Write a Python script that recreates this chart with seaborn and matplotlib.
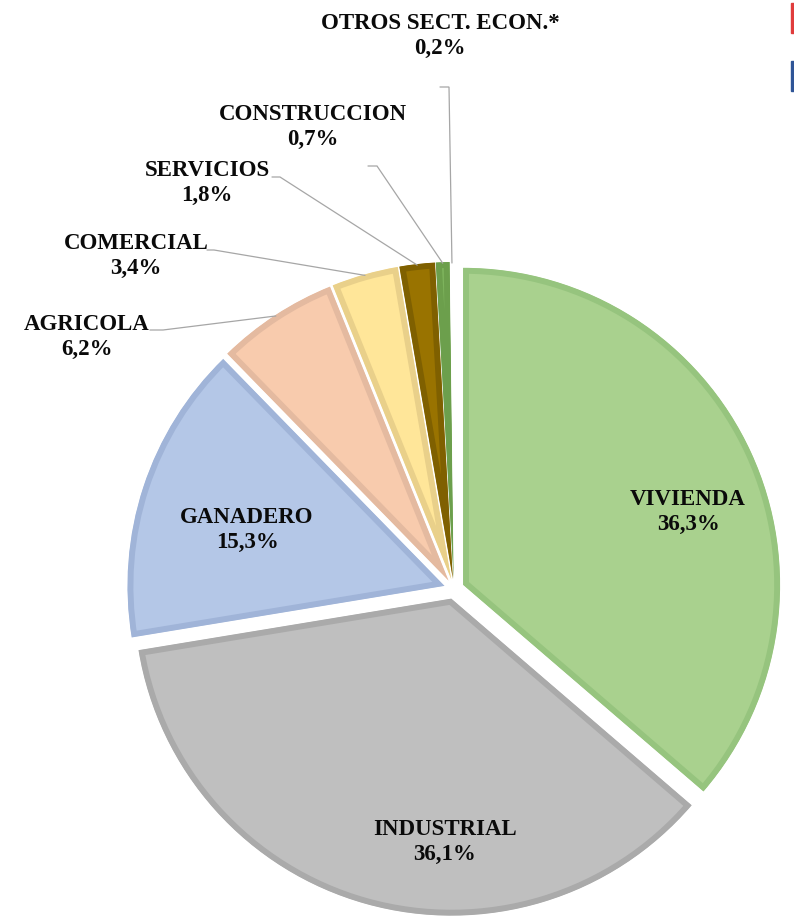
import numpy as np

import matplotlib

matplotlib.use("Agg")

import matplotlib.pyplot as plt

import seaborn as sns

from matplotlib.patches import Rectangle


# ==========================================
# DATA
# ==========================================

sectores = [
    "VIVIENDA",
    "INDUSTRIAL",
    "GANADERO",
    "AGRICOLA",
    "COMERCIAL",
    "SERVICIOS",
    "CONSTRUCCION",
    "OTROS SECT. ECON.*"
]

porcentajes = [36.3, 36.1, 15.3, 6.2, 3.4, 1.8, 0.7, 0.2]

colores_relleno = [
    "#A9D18E", "#BFBFBF", "#B4C7E7", "#F8CBAD",
    "#FFE699", "#997300", "#7DB35C", "#FFFFFF"
]

colores_borde = [
    "#96C47E", "#AAAAAA", "#A0B4D8", "#E4BAA0",
    "#E9D08A", "#7F6000", "#6C9F4C", "#FFFFFF"
]

# label block centres, pixels from top-left
posiciones_etiquetas = [
    (688, 512), (445, 842), (247, 530), (87, 337),
    (136, 256), (207, 183), (313, 127), (440, 36)
]

# leader lines (start, elbow) for the small slices, pixels
lineas_guia = {
    "AGRICOLA": [(150, 330), (163, 330)],
    "COMERCIAL": [(207, 250), (214, 250)],
    "SERVICIOS": [(272, 177), (280, 177)],
    "CONSTRUCCION": [(368, 166), (377, 166)],
    "OTROS SECT. ECON.*": [(440, 87), (449, 87)],
}


# ==========================================
# FIGURE SETUP
# ==========================================

sns.set_theme(style="white")

plt.rcParams["font.family"] = ["Liberation Serif", "DejaVu Serif"]

ANCHO, ALTO = 794, 923

fig = plt.figure(figsize=(ANCHO / 100, ALTO / 100), dpi=100)

ax = fig.add_axes([0, 0, 1, 1])


def px(x, y):
    # pixel (top-left origin) -> data coords
    return x, ALTO - y


centro = px(454, 589)

radio = 317


# ==========================================
# PIE
# ==========================================

# explode is in data units here (= pixels)
wedges, _ = ax.pie(
    porcentajes,
    colors=colores_relleno,
    explode=[10] * len(porcentajes),
    startangle=90,
    counterclock=False,
    radius=radio,
    center=centro,
    wedgeprops=dict(linewidth=8.5)
)

for wedge, borde in zip(wedges, colores_borde):

    wedge.set_edgecolor(borde)

    # keep only the inner half of the outline
    wedge.set_clip_on(True)

    wedge.set_clip_path(wedge)


# ==========================================
# LABELS
# ==========================================

for nombre, valor, (lx, ly), wedge in zip(
    sectores, porcentajes, posiciones_etiquetas, wedges
):

    texto = nombre + "\n" + f"{valor:.1f}".replace(".", ",") + "%"

    ax.text(
        *px(lx, ly),
        texto,
        ha="center",
        va="center",
        fontsize=16.5,
        fontweight="bold",
        color="#0A0A0A",
        linespacing=1.25
    )

    if nombre in lineas_guia:

        theta = np.deg2rad((wedge.theta1 + wedge.theta2) / 2)

        cx, cy = wedge.center

        fin = (
            cx + (wedge.r - 1) * np.cos(theta),
            cy + (wedge.r - 1) * np.sin(theta)
        )

        puntos = [px(*p) for p in lineas_guia[nombre]] + [fin]

        ax.plot(
            [p[0] for p in puntos],
            [p[1] for p in puntos],
            color="#A6A6A6",
            linewidth=0.9,
            solid_joinstyle="miter"
        )


# ==========================================
# CUT-OFF LEGEND MARKERS (top right)
# ==========================================

for y0, color in [(33, "#E03C3C"), (91, "#2F5597")]:

    ax.add_patch(
        Rectangle(
            px(791, y0), 4, 30,
            color=color,
            clip_on=False
        )
    )


ax.set_xlim(0, ANCHO)

ax.set_ylim(0, ALTO)

ax.set_aspect("equal")

ax.axis("off")

fig.savefig("out.png", dpi=100, facecolor="white")
